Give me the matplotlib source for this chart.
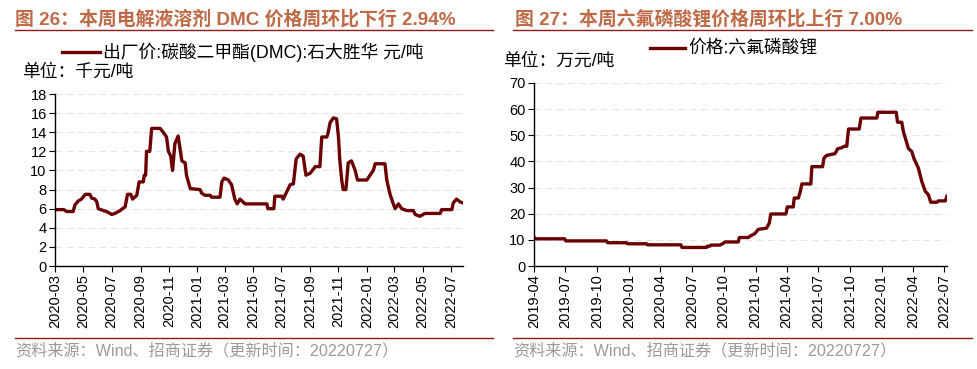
import matplotlib
matplotlib.use("Agg")
import matplotlib.pyplot as plt
import matplotlib.dates as mdates
from matplotlib.lines import Line2D
import pandas as pd

plt.rcParams["font.family"] = ["Liberation Sans", "Noto Sans CJK SC"]
plt.rcParams["axes.unicode_minus"] = False

# ---- data ----
dmc_dates = [
    "2020-03-01", "2020-03-20", "2020-03-26", "2020-04-09", "2020-04-13", "2020-04-20",
    "2020-04-27", "2020-05-05", "2020-05-15", "2020-05-19", "2020-05-26", "2020-05-30",
    "2020-06-02", "2020-06-13", "2020-06-20", "2020-07-01", "2020-07-08", "2020-07-19",
    "2020-07-30", "2020-08-04", "2020-08-11", "2020-08-15", "2020-08-24", "2020-08-29",
    "2020-09-07", "2020-09-09", "2020-09-12", "2020-09-14", "2020-09-21", "2020-09-25",
    "2020-10-13", "2020-10-20", "2020-10-27", "2020-10-31", "2020-11-05", "2020-11-09",
    "2020-11-14", "2020-11-21", "2020-11-29", "2020-12-06", "2020-12-09", "2020-12-17",
    "2021-01-07", "2021-01-11", "2021-01-18", "2021-01-29", "2021-02-01", "2021-02-19",
    "2021-02-23", "2021-02-28", "2021-03-09", "2021-03-16", "2021-03-23", "2021-03-28",
    "2021-04-03", "2021-04-14", "2021-05-31", "2021-06-02", "2021-06-15", "2021-06-17",
    "2021-07-02", "2021-07-05", "2021-07-13", "2021-07-20", "2021-07-27", "2021-08-02",
    "2021-08-10", "2021-08-17", "2021-08-23", "2021-09-01", "2021-09-12", "2021-09-22",
    "2021-09-26", "2021-10-07", "2021-10-10", "2021-10-14", "2021-10-21", "2021-10-28",
    "2021-11-01", "2021-11-04", "2021-11-08", "2021-11-11", "2021-11-17", "2021-11-22",
    "2021-11-29", "2021-12-07", "2021-12-12", "2022-01-01", "2022-01-08", "2022-01-15",
    "2022-01-19", "2022-02-09", "2022-02-13", "2022-02-20", "2022-02-27", "2022-03-03",
    "2022-03-10", "2022-03-17", "2022-03-28", "2022-04-11", "2022-04-15", "2022-04-25",
    "2022-05-06", "2022-06-08", "2022-06-11", "2022-07-03", "2022-07-06", "2022-07-13",
    "2022-07-21", "2022-07-27",
]
dmc_values = [
    5.9, 5.9, 5.7, 5.7, 6.4, 6.8,
    7.0, 7.5, 7.5, 7.1, 7.0, 6.7,
    6.0, 5.8, 5.7, 5.4, 5.5, 5.8,
    6.2, 7.5, 7.5, 7.0, 7.4, 8.8,
    8.8, 9.5, 9.5, 12.0, 12.0, 14.4,
    14.4, 14.0, 13.5, 12.0, 11.5, 10.0,
    12.8, 13.6, 11.0, 10.8, 9.5, 8.1,
    8.0, 7.6, 7.4, 7.4, 7.2, 7.2,
    8.8, 9.2, 9.0, 8.5, 7.0, 6.5,
    7.0, 6.5, 6.5, 6.0, 6.0, 7.3,
    7.3, 7.0, 7.8, 8.5, 8.6, 11.2,
    11.7, 11.5, 9.5, 9.7, 10.4, 10.4,
    13.5, 13.5, 14.0, 15.0, 15.5, 15.4,
    13.5, 11.0, 9.0, 8.0, 8.0, 10.8,
    11.0, 10.0, 9.0, 9.0, 9.5, 10.0,
    10.7, 10.7, 9.0, 7.5, 6.5, 6.0,
    6.5, 6.0, 5.8, 5.8, 5.4, 5.2,
    5.5, 5.5, 5.9, 5.9, 6.6, 7.0,
    6.7, 6.6,
]

lipf6_dates = [
    "2019-04-01", "2019-04-05", "2019-06-29", "2019-07-02", "2019-10-28", "2019-10-31",
    "2019-12-25", "2019-12-28", "2020-02-21", "2020-02-24", "2020-05-30", "2020-06-02",
    "2020-08-12", "2020-08-15", "2020-08-22", "2020-08-25", "2020-09-20", "2020-09-29",
    "2020-10-05", "2020-11-12", "2020-11-15", "2020-12-11", "2020-12-16", "2020-12-30",
    "2021-01-09", "2021-02-02", "2021-02-10", "2021-02-14", "2021-03-30", "2021-04-03",
    "2021-04-20", "2021-04-23", "2021-05-05", "2021-05-10", "2021-05-15", "2021-06-10",
    "2021-06-13", "2021-07-14", "2021-07-18", "2021-07-26", "2021-08-19", "2021-08-27",
    "2021-09-07", "2021-09-14", "2021-09-22", "2021-09-27", "2021-10-28", "2021-11-02",
    "2021-12-18", "2021-12-21", "2022-02-12", "2022-02-16", "2022-02-28", "2022-03-05",
    "2022-03-15", "2022-03-19", "2022-03-29", "2022-04-05", "2022-04-17", "2022-04-27",
    "2022-05-07", "2022-05-16", "2022-05-23", "2022-06-10", "2022-06-14", "2022-07-04",
    "2022-07-09",
]
lipf6_values = [
    11.0, 10.4, 10.4, 9.6, 9.6, 8.9,
    8.9, 8.5, 8.5, 8.1, 8.1, 7.1,
    7.1, 7.6, 7.6, 8.0, 8.0, 8.6,
    9.2, 9.2, 10.9, 10.9, 11.4, 12.4,
    14.0, 14.5, 16.5, 19.9, 19.9, 22.6,
    22.6, 26.0, 26.0, 28.2, 31.4, 31.4,
    38.0, 38.0, 41.3, 42.3, 43.0, 44.9,
    45.2, 45.8, 45.8, 52.4, 52.4, 56.6,
    56.6, 58.8, 58.8, 55.0, 55.0, 51.3,
    46.9, 45.0, 43.8, 40.9, 37.5, 32.4,
    28.6, 27.3, 24.4, 24.4, 24.9, 24.9,
    26.7,
]

titles = ["图 26：本周电解液溶剂 DMC 价格周环比下行 2.94%",
          "图 27：本周六氟磷酸锂价格周环比上行 7.00%"]
legend_labels = ["出厂价:碳酸二甲酯(DMC):石大胜华 元/吨", "价格:六氟磷酸锂"]
unit_labels = ["单位：千元/吨", "单位：万元/吨"]
source_text = "资料来源：Wind、招商证券（更新时间：20220727）"

LINE_COLOR = "#6A0004"
TITLE_COLOR = "#BF6A46"
RULE_COLOR = "#8E1B1B"
W, H = 978, 369


def px(x, y):
    return x / W, 1 - y / H


def style_axes(ax, ymax, ystep):
    ax.set_ylim(0, ymax)
    ax.set_yticks(range(0, ymax + 1, ystep))
    for s in ("top", "right"):
        ax.spines[s].set_visible(False)
    ax.spines["left"].set_linewidth(1.0)
    ax.spines["bottom"].set_linewidth(1.0)
    ax.grid(axis="y", linestyle=(0, (6, 4)), color="#E4E4E4", linewidth=0.8)
    ax.set_axisbelow(True)
    ax.tick_params(axis="both", direction="out", length=4, width=0.8,
                   labelsize=10.5, colors="black", pad=2)
    ax.xaxis.set_major_formatter(mdates.DateFormatter("%Y-%m"))
    for lab in ax.get_xticklabels():
        lab.set_rotation(90)


fig = plt.figure(figsize=(W / 100, H / 100), dpi=100)

# left panel
ax1 = fig.add_axes([55 / W, 1 - 266 / H, (463 - 55) / W, (266 - 94) / H])
d1 = pd.to_datetime(dmc_dates)
ax1.plot(d1, dmc_values, color=LINE_COLOR, linewidth=2.4, solid_joinstyle="round")
ax1.set_xlim(d1[0], d1[-1])
ax1.xaxis.set_major_locator(mdates.MonthLocator(bymonth=[1, 3, 5, 7, 9, 11]))
style_axes(ax1, 18, 2)

# right panel
ax2 = fig.add_axes([534 / W, 1 - 266 / H, (947 - 534) / W, (266 - 83) / H])
d2 = pd.to_datetime(lipf6_dates)
ax2.plot(d2, lipf6_values, color=LINE_COLOR, linewidth=2.4, solid_joinstyle="round")
ax2.set_xlim(d2[0], d2[-1])
ax2.xaxis.set_major_locator(mdates.MonthLocator(bymonth=[1, 4, 7, 10]))
style_axes(ax2, 70, 10)

# titles, rules, legends, units, sources
panels = [
    dict(x0=15, x1=493, tx=15, leg=(62, 100, 52), unit=(22, 72)),
    dict(x0=513, x1=972, tx=515, leg=(650, 685, 48), unit=(503, 61)),
]
for i, p in enumerate(panels):
    fig.text(*px(p["tx"], 19), titles[i], color=TITLE_COLOR, fontsize=13.6,
             fontweight="bold", va="center", ha="left")
    fig.add_artist(Line2D([p["x0"] / W, p["x1"] / W], [1 - 30 / H] * 2,
                          color=RULE_COLOR, linewidth=1.0))
    fig.add_artist(Line2D([p["x0"] / W, p["x1"] / W], [1 - 338 / H] * 2,
                          color=RULE_COLOR, linewidth=1.0))
    lx0, lx1, ly = p["leg"]
    fig.add_artist(Line2D([lx0 / W, lx1 / W], [1 - ly / H] * 2,
                          color=LINE_COLOR, linewidth=2.4))
    fig.text(*px(lx1 + 3, ly), legend_labels[i], fontsize=12.8, va="center",
             ha="left", color="black")
    fig.text(*px(*p["unit"]), unit_labels[i], fontsize=12.8, va="center",
             ha="left", color="black")
    fig.text(*px(p["x0"], 351), source_text, fontsize=11.6, va="center",
             ha="left", color="#9A9A9A")

fig.savefig("out.png", dpi=100)
